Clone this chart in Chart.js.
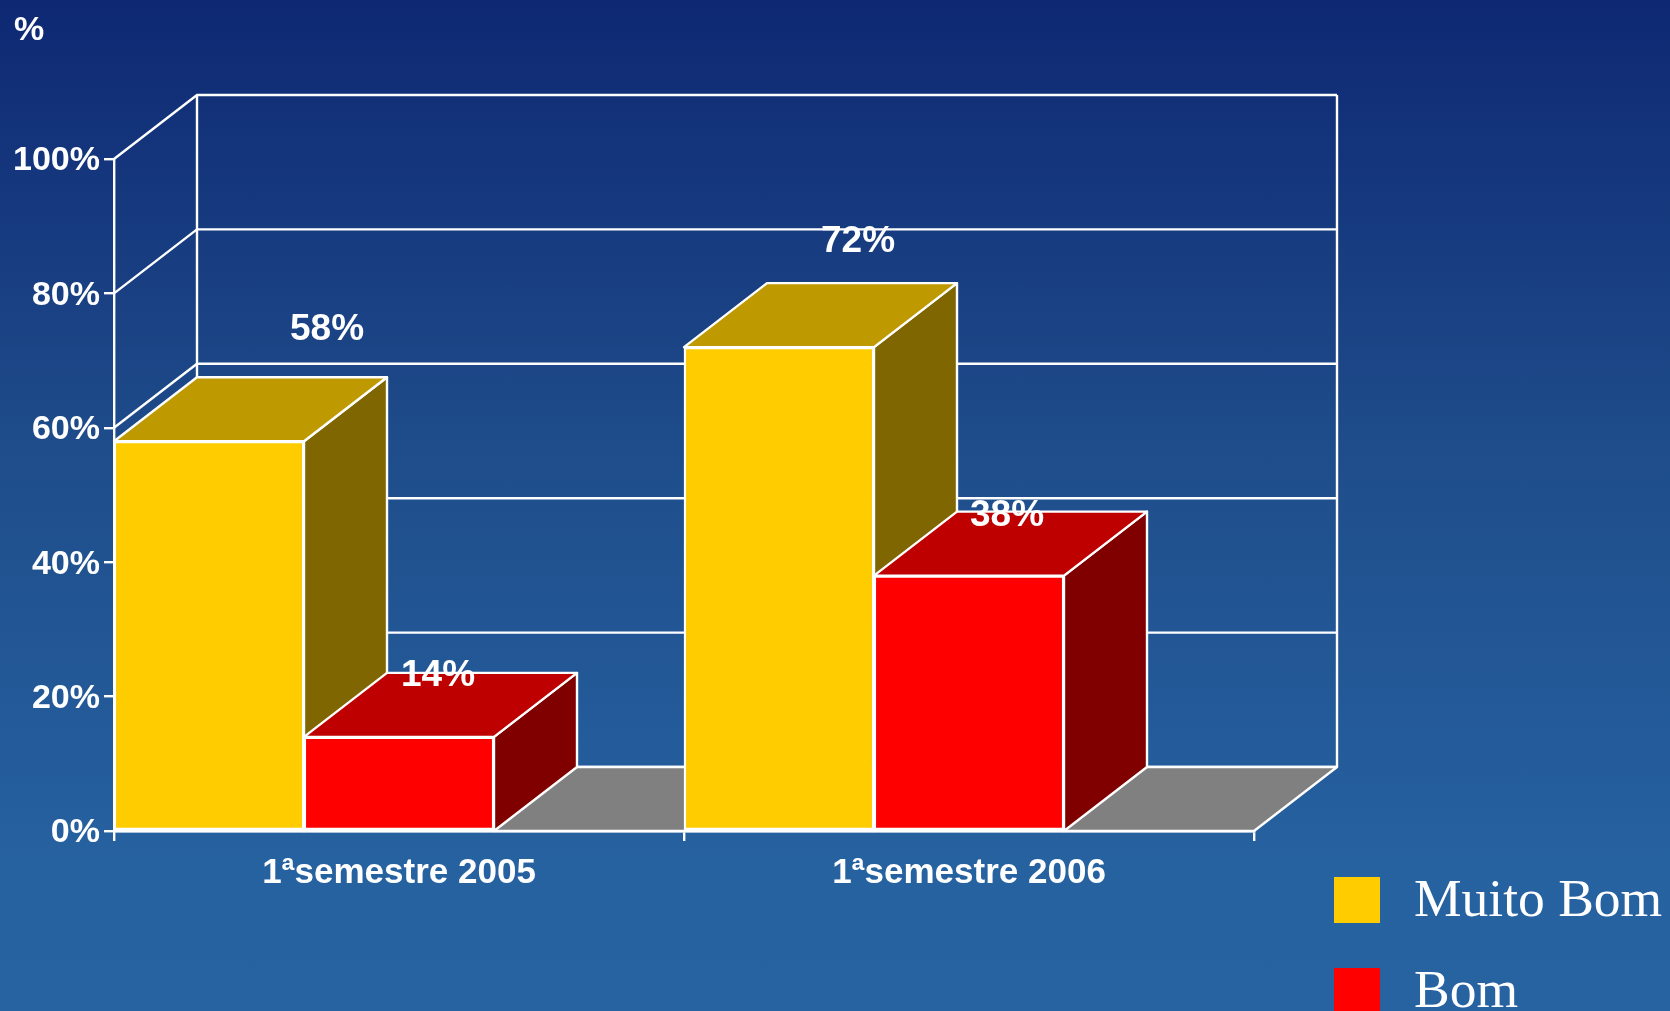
<!DOCTYPE html>
<html>
<head>
  <meta charset="utf-8">
  <script src="https://cdnjs.cloudflare.com/ajax/libs/Chart.js/4.4.1/chart.umd.min.js"></script>
  <style>
    html, body { margin: 0; padding: 0; overflow: hidden; }
    body { width: 1670px; height: 1011px; background: linear-gradient(#0e2873 0%, #1f4d8b 45%, #2661a0 85%, #2763a1 100%); }
    canvas { display: block; }
  </style>
</head>
<body>
<canvas id="grafico" width="1670" height="1011"></canvas>

<script>
var categories = ['1ªsemestre 2005', '1ªsemestre 2006'];
var muitoBom = [58, 72];
var bom = [14, 38];
// third series of the original has no values, it only keeps its slot empty
var vazio = [null, null];

var yMin = 0;
var yMax = 100;
var yStep = 20;

// depth of the fake 3d box
var depthX = 83;
var depthY = 64;

// where the value labels sit relative to each bar's top centre
var labelNudgeX = [[118, 79], [39, 38]];
var labelNudgeY = [[-111, -105], [-61, -60]];

var boxColors = [
  { front: '#ffcc00', top: '#bf9900', side: '#806600' },
  { front: '#ff0000', top: '#bf0000', side: '#800000' }
];

function poly(ctx, pts, fill) {
  ctx.beginPath();
  ctx.moveTo(pts[0][0], pts[0][1]);
  for (var i = 1; i < pts.length; i++) ctx.lineTo(pts[i][0], pts[i][1]);
  ctx.closePath();
  if (fill) { ctx.fillStyle = fill; ctx.fill(); }
  ctx.stroke();
}

var box3d = {
  id: 'box3d',
  beforeDatasetsDraw: function(chart) {
    var ctx = chart.ctx, a = chart.chartArea, y = chart.scales.y;
    ctx.save();
    ctx.strokeStyle = '#fff';
    ctx.lineWidth = 2.4;
    ctx.lineJoin = 'round';

    // back wall and side wall lines, one per tick
    y.ticks.forEach(function(t) {
      var py = y.getPixelForValue(t.value);
      ctx.beginPath();
      ctx.moveTo(a.left, py);
      ctx.lineTo(a.left + depthX, py - depthY);
      ctx.lineTo(a.right + depthX, py - depthY);
      ctx.stroke();
    });
    ctx.beginPath();
    ctx.moveTo(a.left + depthX, a.top - depthY);
    ctx.lineTo(a.left + depthX, a.bottom - depthY);
    ctx.moveTo(a.right + depthX, a.top - depthY);
    ctx.lineTo(a.right + depthX, a.bottom - depthY);
    ctx.stroke();

    // floor
    poly(ctx, [
      [a.left, a.bottom],
      [a.left + depthX, a.bottom - depthY],
      [a.right + depthX, a.bottom - depthY],
      [a.right, a.bottom]
    ], '#808080');

    // top and side faces, the front face is the real bar
    for (var c = 0; c < categories.length; c++) {
      for (var d = 0; d < boxColors.length; d++) {
        var bar = chart.getDatasetMeta(d).data[c];
        var l = bar.x - bar.width / 2, r = bar.x + bar.width / 2;
        poly(ctx, [[r, bar.y], [r + depthX, bar.y - depthY], [r + depthX, a.bottom - depthY], [r, a.bottom]], boxColors[d].side);
        poly(ctx, [[l, bar.y], [l + depthX, bar.y - depthY], [r + depthX, bar.y - depthY], [r, bar.y]], boxColors[d].top);
      }
    }
    ctx.restore();
  },
  afterDatasetsDraw: function(chart) {
    var ctx = chart.ctx;
    ctx.save();
    ctx.fillStyle = '#fff';
    ctx.font = 'bold 37px "Liberation Sans"';
    ctx.textAlign = 'center';
    ctx.textBaseline = 'middle';
    for (var d = 0; d < boxColors.length; d++) {
      var meta = chart.getDatasetMeta(d);
      meta.data.forEach(function(bar, c) {
        var v = chart.data.datasets[d].data[c];
        ctx.fillText(v + '%', bar.x + labelNudgeX[d][c], bar.y + labelNudgeY[d][c]);
      });
    }
    ctx.restore();
  },
  afterDraw: function(chart) {
    var ctx = chart.ctx;
    ctx.save();
    ctx.fillStyle = '#fff';
    ctx.font = 'bold 34px "Liberation Sans"';
    ctx.textAlign = 'left';
    ctx.textBaseline = 'middle';
    ctx.fillText('%', 14, 31);

    // legend
    ctx.font = '53.5px "Liberation Serif"';
    ctx.textBaseline = 'alphabetic';
    for (var d = 0; d < boxColors.length; d++) {
      ctx.fillStyle = boxColors[d].front;
      ctx.fillRect(1334, 877 + d * 91, 46, 46);
      ctx.fillStyle = '#fff';
      ctx.fillText(chart.data.datasets[d].label, 1414, 916 + d * 91);
    }
    ctx.restore();
  }
};

var grafico = new Chart(document.getElementById('grafico'), {
  type: 'bar',
  data: {
    labels: categories,
    datasets: [
      { label: 'Muito Bom', data: muitoBom, backgroundColor: boxColors[0].front },
      { label: 'Bom', data: bom, backgroundColor: boxColors[1].front },
      { label: '', data: vazio }
    ]
  },
  options: {
    responsive: false,
    animation: false,
    layout: { padding: { top: 159, right: 416, left: 0, bottom: 0 } },
    datasets: {
      bar: {
        categoryPercentage: 1,
        barPercentage: 1,
        borderWidth: 2.4,
        borderColor: '#fff',
        borderSkipped: false
      }
    },
    plugins: {
      legend: { display: false },
      tooltip: { enabled: false }
    },
    scales: {
      x: {
        afterFit: function(s) { s.height = 180; },
        border: { color: '#fff', width: 2.4 },
        grid: { color: '#fff', lineWidth: 2.4, drawOnChartArea: false, tickLength: 10 },
        ticks: {
          color: '#fff',
          padding: 11,
          maxRotation: 0,
          font: { family: '"Liberation Sans"', size: 35, weight: 'bold' }
        }
      },
      y: {
        min: yMin,
        max: yMax,
        afterFit: function(s) { s.width = 114; },
        border: { color: '#fff', width: 2.4 },
        grid: { color: '#fff', lineWidth: 2.4, drawOnChartArea: false, tickLength: 10 },
        ticks: {
          stepSize: yStep,
          color: '#fff',
          padding: 4,
          labelOffset: 2,
          font: { family: '"Liberation Sans"', size: 34, weight: 'bold' },
          callback: function(v) { return v + '%'; }
        }
      }
    }
  },
  plugins: [box3d]
});
</script>
</body>
</html>
